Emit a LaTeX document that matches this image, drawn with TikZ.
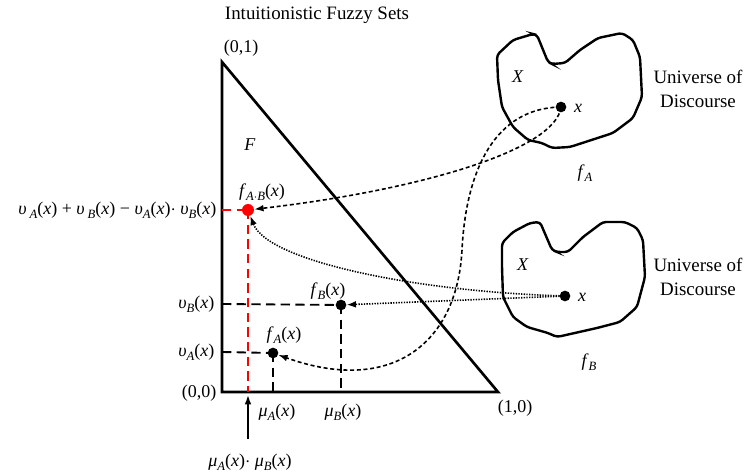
\documentclass[tikz,border=0pt]{standalone}
\usepackage{fontspec}
\setmainfont{Liberation Serif}
\usetikzlibrary{arrows.meta}
\newcommand{\iv}[1]{\textit{#1}}
\newcommand{\sbs}[1]{\raisebox{-0.45ex}{\fontsize{9.5pt}{10pt}\selectfont\itshape #1}}
\begin{document}
\begin{tikzpicture}[x=0.75pt,y=-0.75pt,
  every node/.style={font=\fontsize{13.5pt}{16pt}\selectfont, inner sep=1pt},
  bigtext/.style={font=\fontsize{14.2pt}{18pt}\selectfont},
  dotnode/.style={circle,fill=black,inner sep=0pt,minimum size=8pt},
  reddot/.style={circle,fill=red,inner sep=0pt,minimum size=9pt},
  axisline/.style={line width=2pt,line join=miter},
  projline/.style={line width=1.4pt,dash pattern=on 7pt off 4pt},
  redline/.style={red,line width=1.6pt,dash pattern=on 7pt off 4pt},
  curvedash/.style={line width=1.2pt,dash pattern=on 3pt off 2pt,-{Latex[length=7pt,width=5pt]}},
  curvedot/.style={line width=1.2pt,dash pattern=on 1pt off 1pt,-{Latex[length=7pt,width=5pt]}},
  blob/.style={line width=1.8pt,rounded corners=2.5pt},
  lab/.style={align=center}]
\useasboundingbox (0,0) rectangle (751,474);

% title
\node[bigtext] (title) at (317,15) {Intuitionistic Fuzzy Sets};

% triangle
\coordinate (O) at (222,392);
\coordinate (T) at (222,62);
\coordinate (R) at (498,392);
\draw[axisline] (T) -- (O) -- (R) -- cycle;

\node (l01) at (241,48) {(0,1)};
\node[anchor=east] (l00) at (218,393) {(0,0)};
\node (l10) at (515,408) {(1,0)};
\node (F) at (250,145) {\iv{F}};

% points in triangle
\node[reddot] (fab) at (248,210) {};
\node[dotnode] (fa) at (273,353) {};
\node[dotnode] (fb) at (341,305) {};

\coordinate (yab) at (222,210);
\coordinate (xab) at (248,392);
\coordinate (ya) at (222,352);
\coordinate (xa) at (273,392);
\coordinate (yb) at (222,304);
\coordinate (xb) at (341,392);

\draw[redline] (yab) -- (fab.center);
\draw[redline] (fab.center) -- (xab);
\draw[projline] (ya) -- (fa.center);
\draw[projline] (fa.center) -- (xa);
\draw[projline] (yb) -- (fb.center);
\draw[projline] (fb.center) -- (xb);

\node (lfab) at (262,192) {\iv{f}\sbs{A$\cdot$B}(\iv{x})};
\node (lfa) at (284,335) {\iv{f}\sbs{A}(\iv{x})};
\node (lfb) at (328,291) {\iv{f}\sbs{B}(\iv{x})};

\node[anchor=east] (lyab) at (218,210) {\iv{υ}\,\sbs{A}(\iv{x}) + \iv{υ}\,\sbs{B}(\iv{x}) − \iv{υ}\sbs{A}(\iv{x})$\cdot$ \iv{υ}\sbs{B}(\iv{x})};
\node[anchor=east] (lyb) at (216,304) {\iv{υ}\sbs{B}(\iv{x})};
\node[anchor=east] (lya) at (216,352) {\iv{υ}\sbs{A}(\iv{x})};
\node (lxa) at (277,412) {\iv{μ}\sbs{A}(\iv{x})};
\node (lxb) at (343,412) {\iv{μ}\sbs{B}(\iv{x})};
\node (lxab) at (250,462) {\iv{μ}\sbs{A}(\iv{x})$\cdot$ \iv{μ}\sbs{B}(\iv{x})};
\coordinate (axtip) at (248,395);
\coordinate (axbase) at (248,439);
\draw[line width=1.2pt,-{Latex[length=7pt,width=5pt]}] (axbase) -- (axtip);

% universe A
\draw[blob] (497,55) -- (513,40) -- (533,34) -- (537,35) -- (548,62) -- (552,64) -- (565,63) -- (580,50) -- (598,38) -- (622,33) -- (633,40) -- (640,57) -- (642,97) -- (633,118) -- (613,133) -- (570,147) -- (552,148) -- (542,143) -- (528,140) -- (513,127) -- (502,107) -- (498,80) -- cycle;
\node (XA) at (518,77) {\iv{X}};
\node[dotnode] (pa) at (561,107) {};
\node (lpa) at (578,108) {\iv{x}};
\node (fA) at (585,173) {\iv{f}\sbs{A}};
\node[lab,bigtext] (uA) at (698,89) {Universe of\\Discourse};

% universe B
\draw[blob] (502,243) -- (513,232) -- (530,223) -- (540,222) -- (552,250) -- (557,252) -- (568,252) -- (583,237) -- (603,222) -- (625,222) -- (637,228) -- (643,240) -- (645,277) -- (637,307) -- (620,322) -- (597,328) -- (557,337) -- (548,333) -- (527,327) -- (513,317) -- (503,297) -- (502,267) -- cycle;
\node (XB) at (523,265) {\iv{X}};
\node[dotnode] (pb) at (565,296) {};
\node (lpb) at (582,297) {\iv{x}};
\node (fB) at (589,362) {\iv{f}\sbs{B}};
\node[lab,bigtext] (uB) at (698,277) {Universe of\\Discourse};

% mapping curves
\draw[curvedash] (pa.center) .. controls (556,150) and (420,190) .. (fab);
\draw[curvedash] (pa.center) .. controls (495,108) and (466,170) .. (462,250) .. controls (457,345) and (390,395) .. (fa);
\draw[curvedot] (pb.center) .. controls (420,292) and (268,262) .. (fab);
\draw[curvedot] (pb.center) -- (fb);
\end{tikzpicture}
\end{document}
